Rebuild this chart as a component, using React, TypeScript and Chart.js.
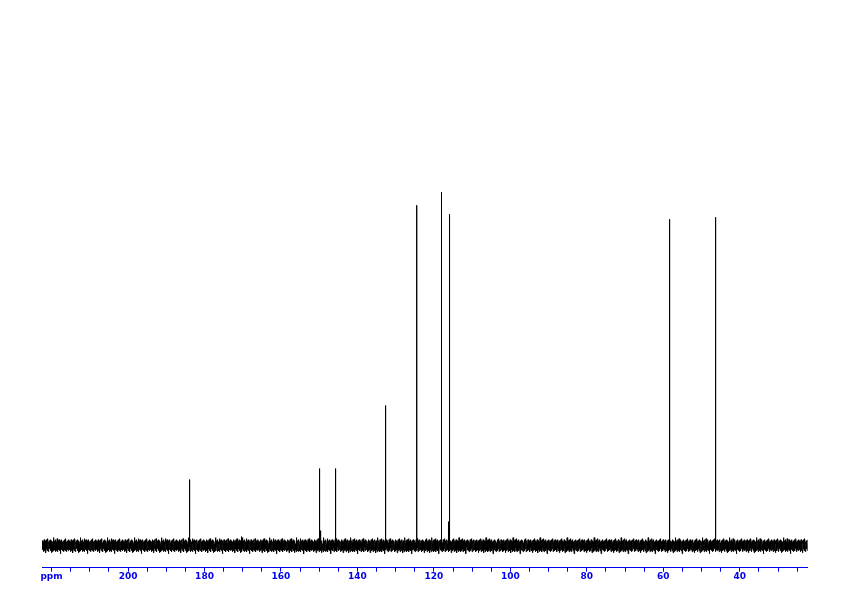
import React, { useEffect, useRef } from "react";
import { Chart, registerables } from "chart.js";

Chart.register(...registerables);

// Spectrum range (ppm), reversed axis
const ppmMax = 222.5;
const ppmMin = 22.3;
const ppmStep = 0.07;

// Peak positions (ppm) and heights (intensity, arbitrary units)
const peakPpm = [183.9, 170.4, 149.9, 149.65, 145.75, 132.7, 124.5, 118.1, 116.25, 116.0, 58.4, 46.4];
const peakHeight = [66, 9, 77, 15, 77, 140, 340, 353, 24, 331, 326, 328];

// Baseline noise pattern (intensity units), read as a texture of the baseline band
const noise = [
  2, -4, 5, -3, 1, -6, 4, -2, 6, -5, 3, -1, -4, 5, -7, 2, 4, -3, 6, -5,
  1, -2, 7, -4, 3, -6, 2, 5, -3, -1, 4, -5, 6, -2, 3, -7, 5, -4, 1, 2,
  -6, 4, -3, 8, -5, 2, -1, 5, -4, 3, -6, 6, -2, 1, -5, 4, -3, 7, -6, 2,
  5, -4, 3, -2, 6, -5, 1, -3, 4, -8, 5, -1, 3, -4, 6, -3, 2, -5, 4, -2,
  5, -6, 3, 1, -4, 6, -5, 2, -3, 7, -2, 4, -6, 3, -1, 5, -4, 2, -5, 6, -3,
];

// Axis ticks
const majorTickStep = 20;
const minorTickStep = 5;
const unitLabelAt = 220;
const unitLabel = "ppm";

function buildData() {
  const pts: { x: number; y: number }[] = [];
  const n = Math.round((ppmMax - ppmMin) / ppmStep);
  for (let i = 0; i <= n; i++) {
    const x = +(ppmMax - i * ppmStep).toFixed(3);
    pts.push({ x, y: noise[i % noise.length] });
  }
  peakPpm.forEach((p, k) => pts.push({ x: p, y: peakHeight[k] }));
  pts.sort((a, b) => b.x - a.x);
  return pts;
}

export default function App() {
  const ref = useRef<HTMLCanvasElement | null>(null);
  useEffect(() => {
    if (!ref.current) return;
    const blue = "#0000ee";
    const chart = new Chart(ref.current, {
      type: "line",
      data: {
        datasets: [
          {
            data: buildData(),
            borderColor: "#000000",
            borderWidth: 1,
            pointRadius: 0,
            tension: 0,
            fill: false,
          },
        ],
      },
      options: {
        animation: false,
        responsive: false,
        maintainAspectRatio: false,
        parsing: false,
        normalized: true,
        layout: { padding: { left: 42, right: 34.5, top: 20, bottom: 13.5 } },
        plugins: { legend: { display: false }, tooltip: { enabled: false } },
        scales: {
          x: {
            type: "linear",
            reverse: true,
            min: ppmMin,
            max: ppmMax,
            border: { display: true, color: blue, width: 1 },
            grid: {
              drawOnChartArea: false,
              drawTicks: true,
              tickLength: 4,
              color: blue,
            },
            ticks: {
              stepSize: minorTickStep,
              includeBounds: false,
              autoSkip: false,
              maxRotation: 0,
              padding: 0,
              color: blue,
              font: { family: "DejaVu Sans", size: 9, weight: "bold" },
              callback: (v: any) => {
                const val = Math.round(Number(v));
                if (val === unitLabelAt) return unitLabel;
                if (val % majorTickStep === 0) return String(val);
                return "";
              },
            },
          },
          y: {
            display: false,
            min: -22,
            max: 525,
          },
        },
      },
    });
    return () => chart.destroy();
  }, []);
  return (
    <div style={{ position: "absolute", left: 0, top: 0, width: 842, height: 596, background: "#fff" }}>
      <canvas ref={ref} width={842} height={596} style={{ width: 842, height: 596 }} />
    </div>
  );
}
